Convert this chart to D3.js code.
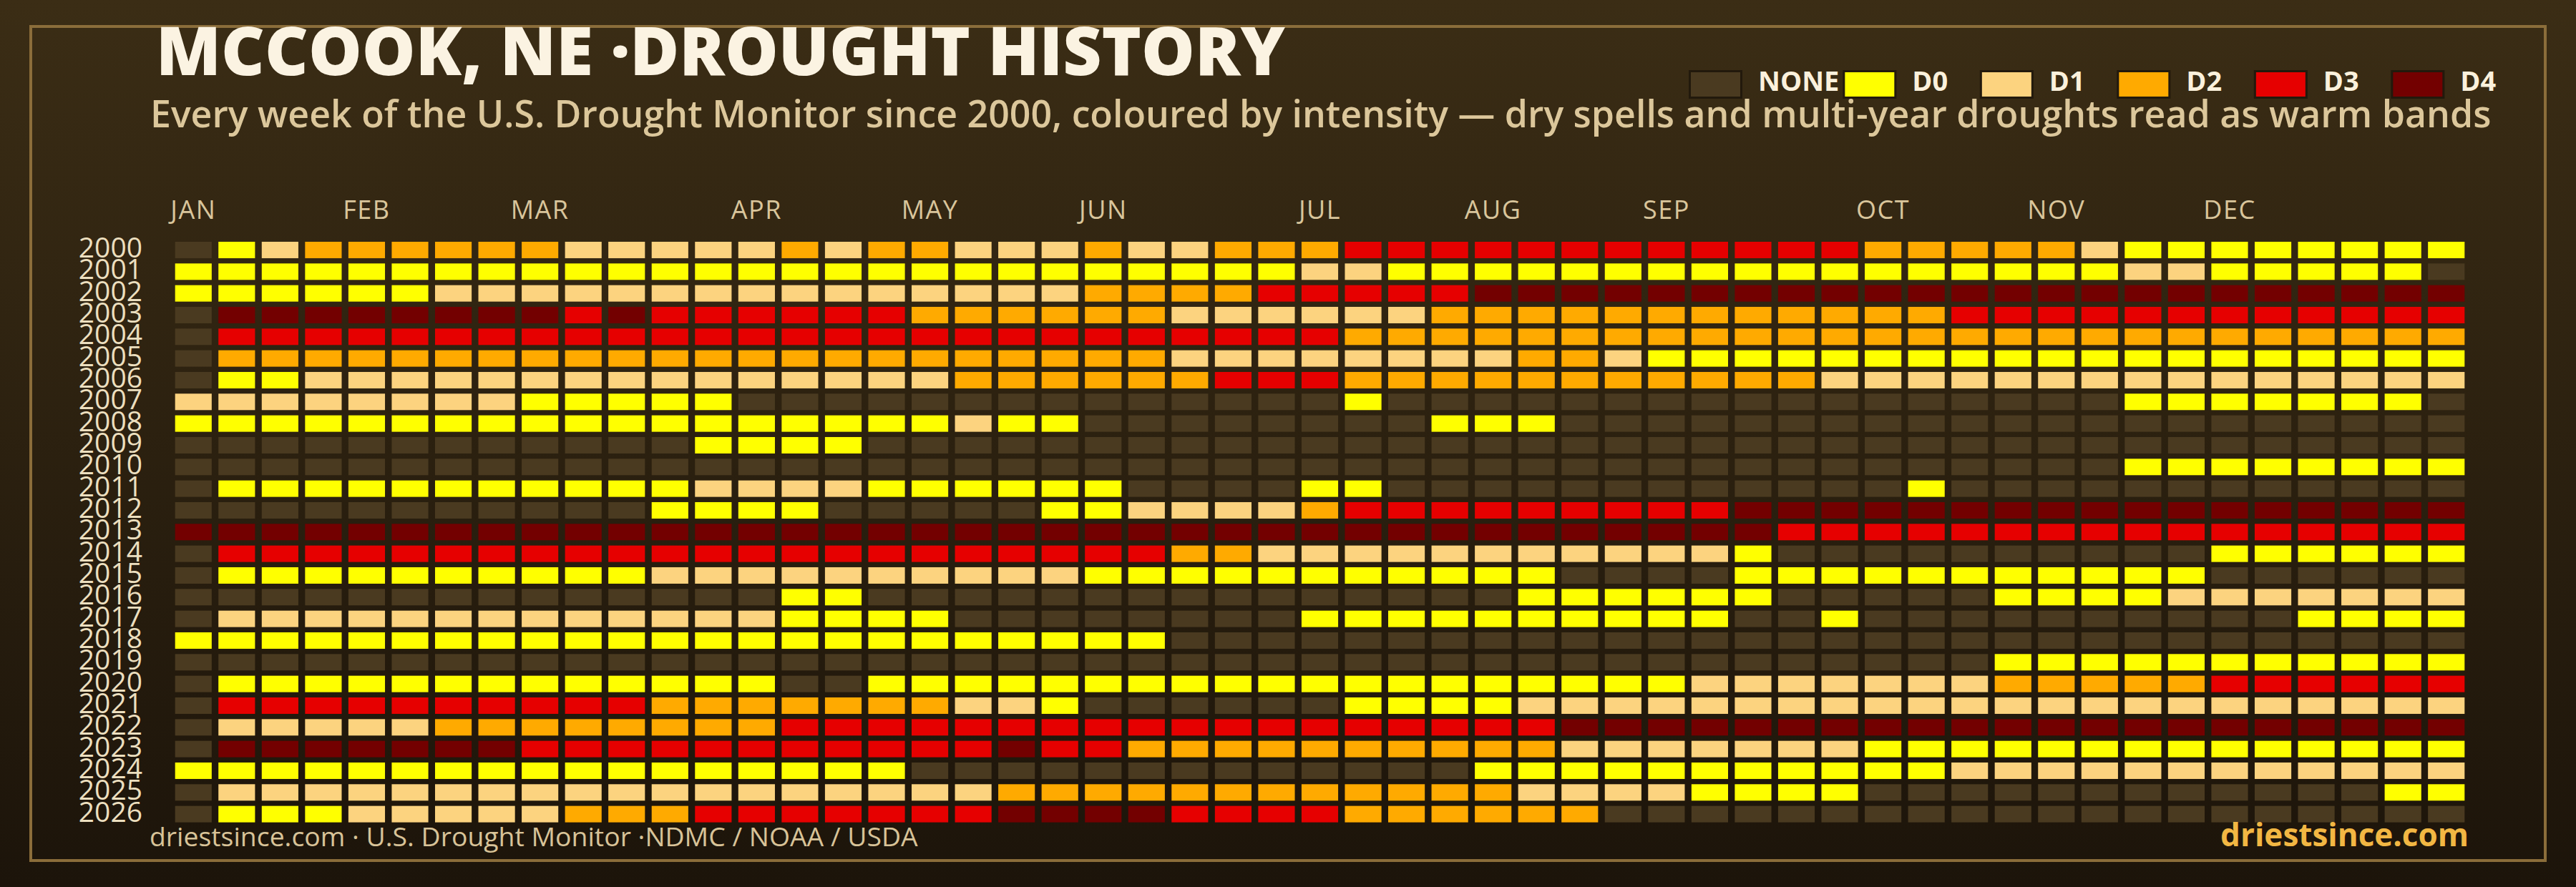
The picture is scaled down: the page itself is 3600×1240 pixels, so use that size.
<!DOCTYPE html>
<html><head><meta charset="utf-8">
<script src="https://cdn.jsdelivr.net/npm/d3@7"></script>
<style>html,body{margin:0;padding:0;background:#1c140a}svg{display:block}</style>
</head><body>
<svg id="chart" width="3600" height="1240"></svg>
<script>
// ---------- data ----------
const years = ["2000","2001","2002","2003","2004","2005","2006","2007","2008","2009","2010","2011","2012","2013","2014","2015","2016","2017","2018","2019","2020","2021","2022","2023","2024","2025","2026"];
const monthLabels = ["JAN","FEB","MAR","APR","MAY","JUN","JUL","AUG","SEP","OCT","NOV","DEC"];
const monthStartWeek = [0,4,8,13,17,21,26,30,34,39,43,47];
const levelNames = ["NONE","D0","D1","D2","D3","D4"];
const levelColors = ["#4a3a20","#ffff00","#fcd37f","#ffaa00","#e60000","#730000"];
// weekly intensity per year: n = none, 0..4 = D0..D4 (53 weeks, spaces only for readability)
const weeklyIntensity = [
  "n01222222111112122 11121122233333333 333322222100000000",
  "000000000000000000 00000000110000000 00000000001100000n",
  "000000111111111111 11122223333344444 444444444444444444",
  "n44444444343333332 22222111111222222 222222333333333333",
  "n33333333333333333 33333333322222222 222222222222222222",
  "n22222222222222222 22222111111112210 000000000000000000",
  "n00111111111111111 22222233322222222 222111111111111111",
  "1111111100000nnnnn nnnnnnnnn0nnnnnnn nnnnnnnnnn0000000n",
  "000000000000000000 100nnnnnnnn000nnn nnnnnnnnnnnnnnnnnn",
  "nnnnnnnnnnnn0000nn nnnnnnnnnnnnnnnnn nnnnnnnnnnnnnnnnnn",
  "nnnnnnnnnnnnnnnnnn nnnnnnnnnnnnnnnnn nnnnnnnnnn00000000",
  "n00000000000111100 0000nnnn00nnnnnnn nnnnn0nnnnnnnnnnnn",
  "nnnnnnnnnnn0000nnn nn001111233333333 344444444444444444",
  "444444444444444444 44444444444444444 443333333333333333",
  "n33333333333333333 33333221111111111 10nnnnnnnnnn000000",
  "n00000000001111111 11100000000000nnn n00000000000nnnnnn",
  "nnnnnnnnnnnnnn00nn nnnnnnnnnnnnn0000 00nnnnn00001111111",
  "n11111111111110000 nnnnnnnn000000000 0nn0nnnnnnnnnn0000",
  "000000000000000000 00000nnnnnnnnnnnn nnnnnnnnnnnnnnnnnn",
  "nnnnnnnnnnnnnnnnnn nnnnnnnnnnnnnnnnn nnnnnnn00000000000",
  "n0000000000000nn00 00000000000000000 111111122222333333",
  "n33333333332222222 110nnnnnn00001111 111111111111111111",
  "n11111222222223333 33333333333333444 444444444444444444",
  "n44444443333333333 34332222222222111 111100000000000000",
  "00000000000000000n nnnnnnnnnnnn00000 000000111111111111",
  "n11111111111111111 12222222222221111 0000nnnnnnnnnnnn00",
  "n00011111222333333 344443333222222nn nnnnnnnnnnnnnnnnnn"
];
const titleText = "MCCOOK, NE \u00B7DROUGHT HISTORY";
const subtitleText = "Every week of the U.S. Drought Monitor since 2000, coloured by intensity \u2014 dry spells and multi-year droughts read as warm bands";
const sourceText = "driestsince.com  \u00B7 U.S. Drought Monitor \u00B7NDMC / NOAA / USDA";
const brandText = "driestsince.com";

// ---------- build ----------
const cells = [];
weeklyIntensity.forEach((row, yi) => {
  row.replace(/\s/g, "").split("").forEach((ch, w) => {
    cells.push({year: years[yi], week: w, level: ch === "n" ? 0 : (+ch + 1)});
  });
});
const nWeeks = 53;
const FONT = "'Open Sans', Lato, sans-serif";

const svg = d3.select("#chart");
const W = 3600, H = 1240;

const defs = svg.append("defs");
const grad = defs.append("linearGradient").attr("id", "bg").attr("x1", 0).attr("y1", 0).attr("x2", 0).attr("y2", 1);
grad.append("stop").attr("offset", "0%").attr("stop-color", "#3b2d15");
grad.append("stop").attr("offset", "100%").attr("stop-color", "#1c140a");
svg.append("rect").attr("width", W).attr("height", H).attr("fill", "url(#bg)");

// frame
svg.append("rect").attr("x", 43).attr("y", 37).attr("width", 3514).attr("height", 1166)
  .attr("fill", "none").attr("stroke", "#8b6d3a").attr("stroke-width", 4);

const x = d3.scaleBand().domain(d3.range(nWeeks)).range([240, 3449]).paddingInner(0.155).paddingOuter(0.0775);
const y = d3.scaleBand().domain(years).range([334.3, 1153.3]).paddingInner(0.242).paddingOuter(0.121);
const color = d3.scaleOrdinal().domain(d3.range(levelNames.length)).range(levelColors);

svg.append("g").selectAll("rect").data(cells).join("rect")
  .attr("x", d => x(d.week)).attr("y", d => y(d.year))
  .attr("width", x.bandwidth()).attr("height", y.bandwidth())
  .attr("fill", d => color(d.level));

// month labels
svg.append("g").selectAll("text").data(monthLabels).join("text")
  .attr("x", (d, i) => x(monthStartWeek[i]) + x.bandwidth() / 2)
  .attr("y", 306)
  .attr("text-anchor", "middle")
  .attr("font-family", FONT).attr("font-size", 36).attr("font-weight", 500)
  .attr("letter-spacing", 1.5)
  .attr("fill", "#d9c59b").text(d => d);

// year labels
svg.append("g").selectAll("text").data(years).join("text")
  .attr("x", 199).attr("y", d => y(d) + y.bandwidth() - 1)
  .attr("text-anchor", "end")
  .attr("font-family", FONT).attr("font-size", 39)
  .attr("fill", "#ecdfbf").text(d => d);

function fitWidth(sel, target) {
  const len = sel.node().getComputedTextLength();
  const fs = parseFloat(sel.attr("font-size"));
  sel.attr("font-size", fs * target / len);
}

// title
const title = svg.append("text").attr("x", 218).attr("y", 105)
  .attr("font-family", FONT).attr("font-weight", 800).attr("font-size", 94)
  .attr("fill", "#fbf3e2").text(titleText);
fitWidth(title, 1578);

const sub = svg.append("text").attr("x", 210).attr("y", 178)
  .attr("font-family", FONT).attr("font-weight", 600).attr("font-size", 42)
  .attr("fill", "#dcc79b").text(subtitleText);
fitWidth(sub, 3272);

// legend
const legend = svg.append("g");
let lx = 2360;
levelNames.forEach((name, i) => {
  const g = legend.append("g").attr("transform", `translate(${lx},0)`);
  g.append("rect").attr("x", 1.5).attr("y", 99.5).attr("width", 72).attr("height", 37)
    .attr("fill", levelColors[i]).attr("stroke", "#22190c").attr("stroke-width", 3);
  const t = g.append("text").attr("x", 97).attr("y", 127)
    .attr("font-family", FONT).attr("font-weight", 700).attr("font-size", 38)
    .attr("fill", "#fbf1dc").text(name);
  const tw = t.node().getComputedTextLength();
  lx += Math.max(191.5, 97 + tw + 5);
});

// footer
const src = svg.append("text").attr("x", 209).attr("y", 1183)
  .attr("font-family", FONT).attr("font-size", 36)
  .attr("fill", "#d8c398").text(sourceText);
fitWidth(src, 1074);
const brand = svg.append("text").attr("x", 3450).attr("y", 1183).attr("text-anchor", "end")
  .attr("font-family", FONT).attr("font-weight", 700).attr("font-size", 43)
  .attr("fill", "#f2b743").text(brandText);
fitWidth(brand, 347);
</script>
</body></html>
